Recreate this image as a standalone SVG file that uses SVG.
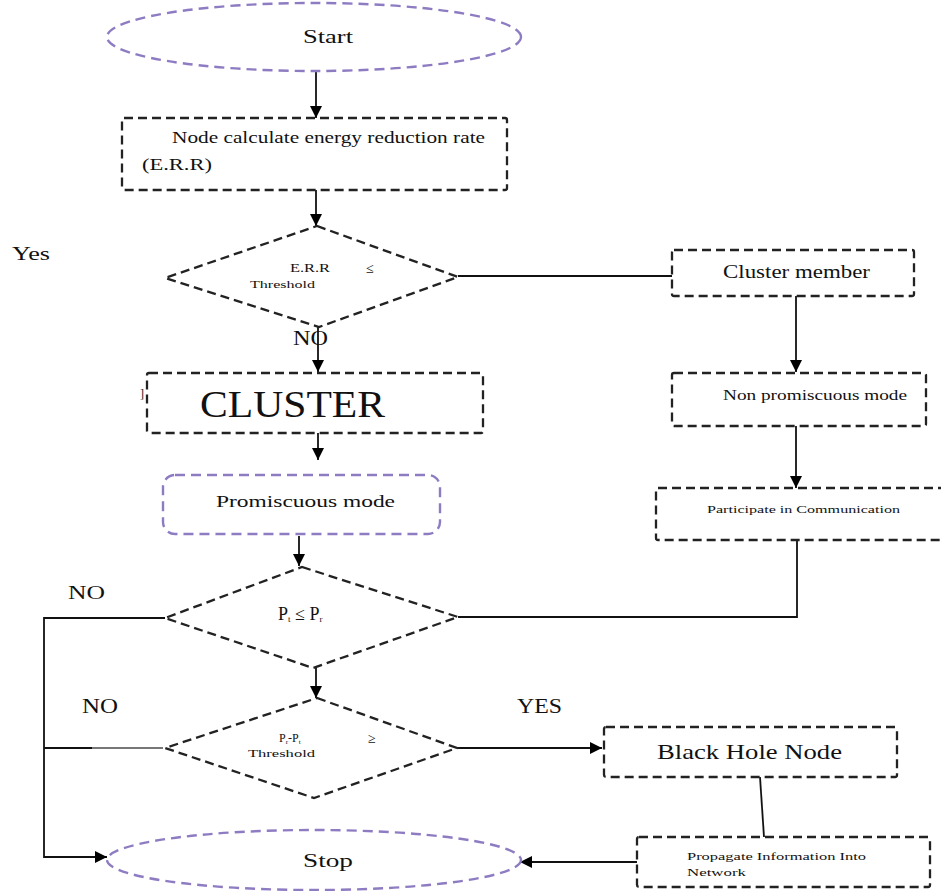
<svg xmlns="http://www.w3.org/2000/svg" width="941" height="891" viewBox="0 0 941 891">
<defs>
<style>
.box{fill:none;stroke:#222;stroke-width:2.3;stroke-dasharray:9 5}
.pbox{fill:none;stroke:#8e7cc3;stroke-width:2.4;stroke-dasharray:10 6}
.ln{fill:none;stroke:#111;stroke-width:1.8}
.t{font-family:"Liberation Serif","Times New Roman",serif;fill:#111}
</style>
<marker id="ah" viewBox="0 0 10 10" refX="10" refY="5" markerUnits="userSpaceOnUse" markerWidth="12" markerHeight="12" orient="auto">
<path d="M0,0 L10,5 L0,10 z" fill="#000"/>
</marker>
</defs>
<rect width="941" height="891" fill="#fff"/>

<g id="connectors">
<line class="ln" x1="316" y1="72" x2="316" y2="118" marker-end="url(#ah)"/>
<line class="ln" x1="316" y1="190" x2="316" y2="226" marker-end="url(#ah)"/>
<line class="ln" x1="458" y1="276" x2="672" y2="276"/>
<line class="ln" x1="318" y1="327" x2="318" y2="372" marker-end="url(#ah)"/>
<line class="ln" x1="796" y1="296" x2="796" y2="372" marker-end="url(#ah)"/>
<line class="ln" x1="796" y1="426" x2="796" y2="488" marker-end="url(#ah)"/>
<line class="ln" x1="318" y1="433" x2="318" y2="460" marker-end="url(#ah)"/>
<line class="ln" x1="299" y1="536" x2="299" y2="566" marker-end="url(#ah)"/>
<polyline class="ln" points="797,540 797,617 458,617"/>
<polyline class="ln" points="165,618 44,618 44,857 107,857" marker-end="url(#ah)"/>
<line class="ln" x1="316" y1="668" x2="316" y2="698" marker-end="url(#ah)"/>
<line class="ln" x1="44" y1="748" x2="92" y2="748"/>
<line x1="92" y1="748" x2="163" y2="748" stroke="#777" stroke-width="2.2"/>
<line class="ln" x1="458" y1="748" x2="602" y2="748" marker-end="url(#ah)"/>
<line class="ln" x1="760" y1="777" x2="764" y2="837"/>
<line class="ln" x1="637" y1="862" x2="520" y2="862" marker-end="url(#ah)"/>
</g>

<g id="start">
<ellipse class="pbox" cx="314" cy="37" rx="207" ry="34"/>
<text class="t" x="303" y="43" font-size="19" textLength="50" lengthAdjust="spacingAndGlyphs">Start</text>
</g>

<g id="calc">
<rect class="box" x="122" y="118" width="385" height="72" rx="2"/>
<text class="t" x="172" y="143" font-size="16" textLength="313" lengthAdjust="spacingAndGlyphs">Node calculate energy reduction rate</text>
<text class="t" x="142" y="170" font-size="16" textLength="70" lengthAdjust="spacingAndGlyphs">(E.R.R)</text>
</g>

<text class="t" x="12" y="260" font-size="18" textLength="38" lengthAdjust="spacingAndGlyphs">Yes</text>

<g id="decision1">
<polygon class="box" points="317,226 458,277 319,327 165,278"/>
<text class="t" x="290" y="272" font-size="12" textLength="40" lengthAdjust="spacingAndGlyphs">E.R.R</text>
<text class="t" x="366" y="273" font-size="14">≤</text>
<text class="t" x="250" y="288" font-size="11" textLength="65" lengthAdjust="spacingAndGlyphs">Threshold</text>
<text class="t" x="293" y="345" font-size="20" textLength="35" lengthAdjust="spacingAndGlyphs">NO</text>
</g>

<g id="clustermember">
<rect class="box" x="672" y="250" width="242" height="46" rx="2"/>
<text class="t" x="723" y="278" font-size="18" textLength="147" lengthAdjust="spacingAndGlyphs">Cluster member</text>
</g>

<g id="nonpromiscuous">
<rect class="box" x="672" y="373" width="254" height="53" rx="2"/>
<text class="t" x="723" y="400" font-size="14" textLength="184" lengthAdjust="spacingAndGlyphs">Non promiscuous mode</text>
</g>

<g id="participate">
<rect class="box" x="656" y="488" width="300" height="52" rx="2"/>
<text class="t" x="707" y="513" font-size="11" textLength="193" lengthAdjust="spacingAndGlyphs">Participate in Communication</text>
</g>

<g id="cluster">
<rect class="box" x="147" y="373" width="336" height="60" rx="2"/>
<text class="t" x="140" y="398" font-size="12">]</text>
<text class="t" x="200" y="417" font-size="37" textLength="185" lengthAdjust="spacingAndGlyphs">CLUSTER</text>
</g>

<g id="promiscuous">
<rect class="pbox" x="163" y="475" width="277" height="59" rx="12"/>
<text class="t" x="216" y="507" font-size="16" textLength="179" lengthAdjust="spacingAndGlyphs">Promiscuous mode</text>
</g>

<g id="decision2">
<polygon class="box" points="302,567 458,617 313,668 165,618"/>
<text class="t" x="68" y="599" font-size="19" textLength="37" lengthAdjust="spacingAndGlyphs">NO</text>
<text class="t" x="278" y="620" font-size="18">P<tspan font-size="9" dy="2">t</tspan><tspan dy="-2"> ≤ P</tspan><tspan font-size="9" dy="2">r</tspan></text>
</g>

<g id="decision3">
<polygon class="box" points="317,698 457,748 314,798 165,748"/>
<text class="t" x="82" y="713" font-size="20" textLength="36" lengthAdjust="spacingAndGlyphs">NO</text>
<text class="t" x="517" y="713" font-size="20" textLength="45" lengthAdjust="spacingAndGlyphs">YES</text>
<text class="t" x="279" y="742" font-size="12">P<tspan font-size="7" dy="2">r</tspan><tspan dy="-2">-P</tspan><tspan font-size="7" dy="2">t</tspan></text>
<text class="t" x="248" y="757" font-size="11" textLength="67" lengthAdjust="spacingAndGlyphs">Threshold</text>
<text class="t" x="368" y="743" font-size="14">≥</text>
</g>

<g id="blackhole">
<rect class="box" x="604" y="727" width="293" height="50" rx="2"/>
<text class="t" x="657" y="759" font-size="21" textLength="185" lengthAdjust="spacingAndGlyphs">Black Hole Node</text>
</g>

<g id="propagate">
<rect class="box" x="637" y="837" width="293" height="50" rx="2"/>
<text class="t" x="687" y="860" font-size="11" textLength="179" lengthAdjust="spacingAndGlyphs">Propagate Information Into</text>
<text class="t" x="687" y="876" font-size="11" textLength="59" lengthAdjust="spacingAndGlyphs">Network</text>
</g>

<g id="stop">
<ellipse class="pbox" cx="314" cy="860" rx="207" ry="30"/>
<text class="t" x="303" y="867" font-size="19" textLength="50" lengthAdjust="spacingAndGlyphs">Stop</text>
</g>
</svg>
